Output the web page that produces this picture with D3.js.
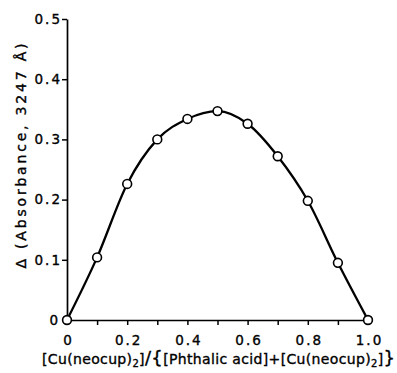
<!DOCTYPE html>
<html>
<head>
<meta charset="utf-8">
<script src="https://cdn.jsdelivr.net/npm/d3@7"></script>
<style>
  html, body { margin: 0; padding: 0; background: #fff; }
  svg { display: block; }
  text { font-family: "DejaVu Sans", sans-serif; fill: #000; stroke: #000; stroke-width: 0.35px; }
</style>
</head>
<body>
<div id="chart"></div>
<script>
// Mole fraction of Cu(neocup)2 vs. change in absorbance at 3247 Å
const moleFraction = [0, 0.1, 0.2, 0.3, 0.4, 0.5, 0.6, 0.7, 0.8, 0.9, 1.0];
const deltaAbsorbance = [0, 0.104, 0.226, 0.300, 0.334, 0.347, 0.326, 0.272, 0.198, 0.095, 0];
const xTickValues = [0, 0.1, 0.2, 0.3, 0.4, 0.5, 0.6, 0.7, 0.8, 0.9, 1.0];
const xTickLabels = ["0", "", "0.2", "", "0.4", "", "0.6", "", "0.8", "", "1.0"];
const yTickValues = [0, 0.1, 0.2, 0.3, 0.4, 0.5];
const yTickLabels = ["0", "0.1", "0.2", "0.3", "0.4", "0.5"];

const width = 397, height = 373;
const svg = d3.select("#chart").append("svg")
  .attr("width", width).attr("height", height);

const x = d3.scaleLinear().domain([0, 1]).range([67, 368]);
const y = d3.scaleLinear().domain([0, 0.5]).range([320, 19]);

const tickFont = sel => sel
  .style("font-size", "13.5px")
  .style("letter-spacing", "2px")
  .style("font-family", "DejaVu Sans, sans-serif");

// x axis: ticks hang below the line
const xAxis = svg.append("g")
  .attr("transform", `translate(0,${y(0)})`)
  .call(d3.axisBottom(x).tickValues(xTickValues)
    .tickFormat((d, i) => xTickLabels[i]).tickSize(5).tickSizeOuter(0).tickPadding(10));
xAxis.select(".domain").attr("stroke-width", 1.7);
xAxis.selectAll(".tick line").attr("stroke-width", 1.5);
xAxis.selectAll("text").call(tickFont).attr("dx", "1px");

// y axis
const yAxis = svg.append("g")
  .attr("transform", `translate(${x(0)},0)`)
  .call(d3.axisLeft(y).tickValues(yTickValues)
    .tickFormat((d, i) => yTickLabels[i]).tickSize(5).tickSizeOuter(0).tickPadding(0));
yAxis.select(".domain").attr("stroke-width", 1.7);
yAxis.selectAll(".tick line").attr("stroke-width", 1.5);
yAxis.selectAll("text").call(tickFont);
// zero label sits left of the origin marker
yAxis.selectAll(".tick").filter(d => d === 0).select("text").attr("x", -7);

// smooth curve through the measured points
const pts = moleFraction.map((m, i) => [m, deltaAbsorbance[i]]);
const line = d3.line().x(d => x(d[0])).y(d => y(d[1])).curve(d3.curveMonotoneX);
svg.append("path").datum(pts)
  .attr("d", line)
  .attr("fill", "none").attr("stroke", "#000").attr("stroke-width", 2.3);

// open circle markers
svg.selectAll("circle.pt").data(pts).join("circle")
  .attr("class", "pt")
  .attr("cx", d => x(d[0])).attr("cy", d => y(d[1]))
  .attr("r", 4.4)
  .attr("fill", "#fff").attr("stroke", "#000").attr("stroke-width", 1.6);

// y axis title
svg.append("text")
  .attr("transform", "translate(26,156) rotate(-90)")
  .attr("text-anchor", "middle")
  .attr("textLength", 225)
  .attr("lengthAdjust", "spacing")
  .style("font-size", "14px")
  .text("Δ (Absorbance,  3247 Å)");

// x axis title
const xt = svg.append("text")
  .attr("x", 42).attr("y", 364)
  .attr("textLength", 353)
  .attr("lengthAdjust", "spacing")
  .style("font-size", "14px");
xt.append("tspan").text("[Cu(neocup)");
xt.append("tspan").attr("dy", 3).style("font-size", "10px").text("2");
xt.append("tspan").attr("dy", -3).text("]");
xt.append("tspan").style("font-size", "18px").text("/");
xt.append("tspan").style("font-size", "18px").text("{");
xt.append("tspan").text("[Phthalic acid]+[Cu(neocup)");
xt.append("tspan").attr("dy", 3).style("font-size", "10px").text("2");
xt.append("tspan").attr("dy", -3).text("]");
xt.append("tspan").style("font-size", "18px").text("}");
</script>
</body>
</html>
